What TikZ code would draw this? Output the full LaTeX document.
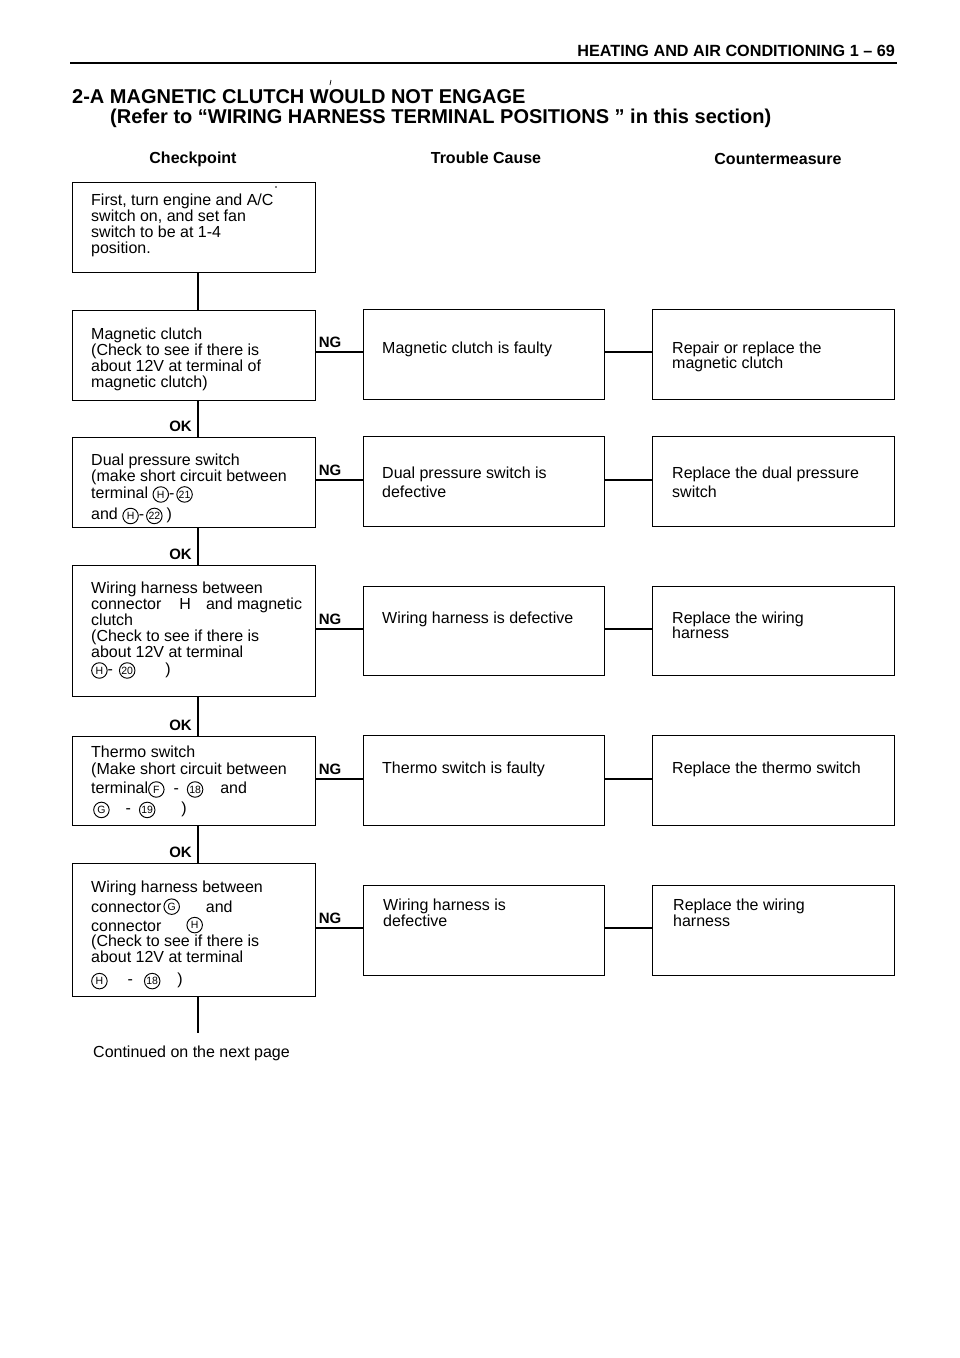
\documentclass[tikz,border=0pt]{standalone}
\usepackage{fontspec}
\setmainfont{Liberation Sans}
\newcommand\cc[1]{\tikz[baseline=(cc.base)]\node[draw,circle,line width=0.95pt,inner sep=0pt,minimum size=15.5pt,anchor=center,font=\fontsize{10.5}{10.5}\selectfont](cc){#1};}
\begin{document}
\begin{tikzpicture}[x=1pt,y=-1pt,
  box/.style={draw,line width=1.2pt,inner sep=0pt,anchor=north west},
  txt/.style={font=\fontsize{16}{16}\selectfont,align=left,inner sep=0pt,anchor=base west},
  mtxt/.style={txt,anchor=north west},
  lab/.style={font=\bfseries\fontsize{15}{15}\selectfont,inner sep=0pt},
  head/.style={font=\bfseries\fontsize{16}{16}\selectfont,inner sep=0pt,anchor=base},
  ttl/.style={font=\bfseries\fontsize{20}{20}\selectfont,inner sep=0pt,anchor=base west},
  ln/.style={line width=1.2pt}]
\useasboundingbox (0,0) rectangle (960,1358);

% header
\node[font=\bfseries\fontsize{16.2}{16.2}\selectfont,inner sep=0pt,anchor=base east] (hdr) at (895,56) {HEATING AND AIR CONDITIONING 1 -- 69};
\coordinate (hl) at (70,63);
\coordinate (hr) at (897,63);
\draw[line width=2pt] (hl) -- (hr);

% title
\node[ttl] (ti1) at (72,103) {2-A MAGNETIC CLUTCH WOULD NOT ENGAGE};
\node[ttl] (ti2) at (110,123) {(Refer to “WIRING HARNESS TERMINAL POSITIONS ” in this section)};
\draw[line width=0.7pt] (331,80) -- (330,85);

% column headings
\node[head] (h1) at (193,163) {Checkpoint};
\node[head] (h2) at (486,163) {Trouble Cause};
\node[head] (h3) at (778,164) {Countermeasure};

% left boxes
\node[box,minimum width=243pt,minimum height=90pt] (b1) at (72,182) {};
\node[box,minimum width=243pt,minimum height=90pt] (b2) at (72,310) {};
\node[box,minimum width=243pt,minimum height=90pt] (b3) at (72,437) {};
\node[box,minimum width=243pt,minimum height=131pt] (b4) at (72,565) {};
\node[box,minimum width=243pt,minimum height=89pt] (b5) at (72,736) {};
\node[box,minimum width=243pt,minimum height=133pt] (b6) at (72,863) {};
\fill (276,187) circle (0.9pt);

% trouble boxes
\node[box,minimum width=241pt,minimum height=90pt] (t1) at (363,309) {};
\node[box,minimum width=241pt,minimum height=90pt] (t2) at (363,436) {};
\node[box,minimum width=241pt,minimum height=89pt] (t3) at (363,586) {};
\node[box,minimum width=241pt,minimum height=90pt] (t4) at (363,735) {};
\node[box,minimum width=241pt,minimum height=90pt] (t5) at (363,885) {};

% countermeasure boxes
\node[box,minimum width=242pt,minimum height=90pt] (c1) at (652,309) {};
\node[box,minimum width=242pt,minimum height=90pt] (c2) at (652,436) {};
\node[box,minimum width=242pt,minimum height=89pt] (c3) at (652,586) {};
\node[box,minimum width=242pt,minimum height=90pt] (c4) at (652,735) {};
\node[box,minimum width=242pt,minimum height=90pt] (c5) at (652,885) {};

% left texts
\node[mtxt] (x1) at (91,193.3) {First, turn engine and A/C\\switch on, and set fan\\switch to be at 1-4\\position.};
\node[mtxt] (x2) at (91,327.3) {Magnetic clutch\\(Check to see if there is\\about 12V at terminal of\\magnetic clutch)};
\node[mtxt] (x3) at (91,453.3) {Dual pressure switch\\(make short circuit between\\[1pt]terminal \cc{H}-\hspace{2pt}\cc{21}\\[4pt]and \cc{H}-\hspace{2pt}\cc{22}\hspace{4pt})};
\node[mtxt] (x4) at (91,581.3) {Wiring harness between\\connector\hspace{18pt}H\hspace{15pt}and magnetic\\clutch\\(Check to see if there is\\about 12V at terminal\\[1pt]\cc{H}-\hspace{6pt}\cc{20}\hspace{30pt})};
\node[mtxt] (x5) at (91,745.3) {Thermo switch\\[1pt](Make short circuit between\\[3pt]terminal\cc{F}\hspace{9pt}-\hspace{8pt}\cc{18}\hspace{17pt}and\\[3pt]\hspace{2pt}\cc{G}\hspace{16pt}-\hspace{8pt}\cc{19}\hspace{26pt})};
\node[mtxt] (x6) at (91,880.3) {Wiring harness between\\[2pt]connector\hspace{2pt}\raisebox{2.5pt}{\cc{G}}\hspace{26pt}and\\[1pt]connector\hspace{25pt}\raisebox{3pt}{\cc{H}}\\[-1pt](Check to see if there is\\about 12V at terminal\\[6pt]\cc{H}\hspace{20pt}-\hspace{11pt}\cc{18}\hspace{17pt})};

% trouble texts
\node[txt] (y1) at (382,353) {Magnetic clutch is faulty};
\node[mtxt] (y2) at (382,466.3) {Dual pressure switch is\\[3pt]defective};
\node[txt] (y3) at (382,623) {Wiring harness is defective};
\node[txt] (y4) at (382,773) {Thermo switch is faulty};
\node[mtxt] (y5) at (383,898.3) {Wiring harness is\\defective};

% countermeasure texts
\node[mtxt] (z1) at (672,341.3) {Repair or replace the\\[-1pt]magnetic clutch};
\node[mtxt] (z2) at (672,466.3) {Replace the dual pressure\\[3pt]switch};
\node[mtxt] (z3) at (672,611.3) {Replace the wiring\\[-0.5pt]harness};
\node[txt] (z4) at (672,773) {Replace the thermo switch};
\node[mtxt] (z5) at (673,898.3) {Replace the wiring\\harness};

% connector helpers
\coordinate (vx) at (198,0);
\coordinate (r1) at (0,352);
\coordinate (r2) at (0,480);
\coordinate (r3) at (0,629);
\coordinate (r4) at (0,779);
\coordinate (r5) at (0,928);
\coordinate (endpt) at (198,1033);

% vertical connectors
\draw[ln] (b1.south -| vx) -- (b2.north -| vx);
\draw[ln] (b2.south -| vx) -- (b3.north -| vx);
\draw[ln] (b3.south -| vx) -- (b4.north -| vx);
\draw[ln] (b4.south -| vx) -- (b5.north -| vx);
\draw[ln] (b5.south -| vx) -- (b6.north -| vx);
\draw[ln] (b6.south -| vx) -- (endpt);

% NG connectors
\draw[ln] (b2.east |- r1) -- (t1.west |- r1);
\draw[ln] (t1.east |- r1) -- (c1.west |- r1);
\draw[ln] (b3.east |- r2) -- (t2.west |- r2);
\draw[ln] (t2.east |- r2) -- (c2.west |- r2);
\draw[ln] (b4.east |- r3) -- (t3.west |- r3);
\draw[ln] (t3.east |- r3) -- (c3.west |- r3);
\draw[ln] (b5.east |- r4) -- (t4.west |- r4);
\draw[ln] (t4.east |- r4) -- (c4.west |- r4);
\draw[ln] (b6.east |- r5) -- (t5.west |- r5);
\draw[ln] (t5.east |- r5) -- (c5.west |- r5);

% labels
\node[lab,anchor=base] (ng1) at (330,347) {NG};
\node[lab,anchor=base] (ng2) at (330,475) {NG};
\node[lab,anchor=base] (ng3) at (330,624) {NG};
\node[lab,anchor=base] (ng4) at (330,774) {NG};
\node[lab,anchor=base] (ng5) at (330,923) {NG};
\node[lab,anchor=base east] (ok1) at (192,431) {OK};
\node[lab,anchor=base east] (ok2) at (192,559) {OK};
\node[lab,anchor=base east] (ok3) at (192,730) {OK};
\node[lab,anchor=base east] (ok4) at (192,857) {OK};

\node[txt] (cont) at (93,1057) {Continued on the next page};
\end{tikzpicture}
\end{document}
